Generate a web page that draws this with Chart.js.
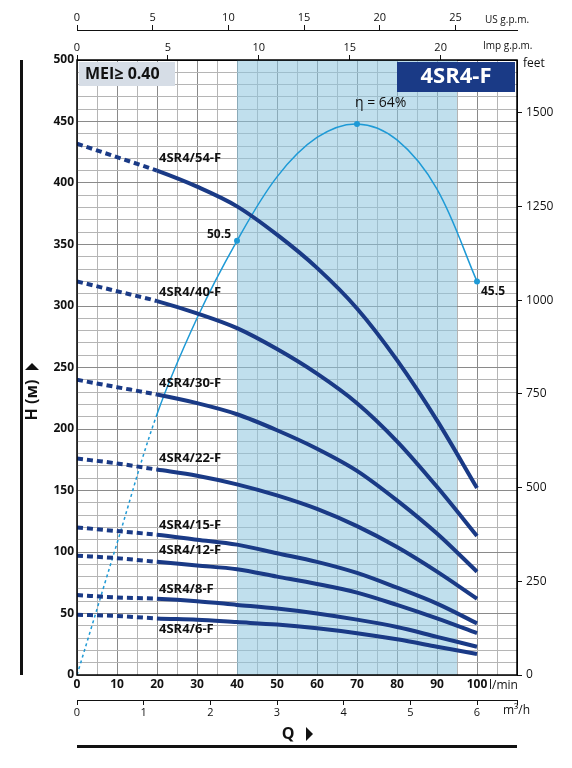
<!DOCTYPE html>
<html><head><meta charset="utf-8">
<script src="https://cdn.jsdelivr.net/npm/chart.js@4/dist/chart.umd.min.js"></script>
<style>html,body{margin:0;padding:0;background:#fff}#w{width:572px;height:768px}</style>
</head><body><div id="w"><canvas id="c"></canvas></div>
<script>
const flows = [0,10,20,30,40,50,60,70,80,90,100];
const pumpNames = ["4SR4/54-F","4SR4/40-F","4SR4/30-F","4SR4/22-F","4SR4/15-F","4SR4/12-F","4SR4/8-F","4SR4/6-F"];
const h54 = [432,421,410,397,381,358,331,298,256,207,152];
const h40 = [320,312,304,294,282,265,245,221,190,153,113];
const h30 = [240,234,228,221,212,199,184,166,142,115,84];
const h22 = [176,172,167,162,155,146,135,121,104,84,62];
const h15 = [120,117,114,110,106,99,92,83,71,58,42];
const h12 = [97,95,92,89,86,80,74,67,57,46,34];
const h8 = [65,63,62,60,57,54,50,45,39,31,23];
const h6 = [49,48,46,45,43,41,38,34,29,23,17];
const labelH = [420,311,237,176,122,101,70,37];
const effQ = [0,10,20,30,40,50,60,70,80,90,100];
const effH = [0,107,212,290,353,405,437,448,435,395,320];
const yTicks = [0,50,100,150,200,250,300,350,400,450,500];

const navy = '#1a3a86', blue = '#1e9ad6';
const curves = [h54,h40,h30,h22,h15,h12,h8,h6];
const datasets = curves.map((arr,i)=>({
  label: pumpNames[i], data: flows.map((q,j)=>({x:q,y:arr[j]})),
  borderColor: navy, borderWidth: 4, pointRadius: 0, cubicInterpolationMode:'monotone',
  segment:{borderDash: c => c.p1.parsed.x <= 20 ? [6,4] : undefined}
}));
datasets.push({label:'eta', data: effQ.map((q,j)=>({x:q,y:effH[j]})), borderColor: blue, borderWidth:1.5,
  tension:0.35,
  pointRadius: c => [40,70,100].includes(effQ[c.dataIndex]) ? 3 : 0, pointBackgroundColor: blue, pointBorderWidth:0,
  segment:{borderDash: c => c.p1.parsed.x <= 20 ? [3,3] : undefined}});

const deco = {
  id:'deco',
  beforeDatasetsDraw(ch){
    const {ctx, scales:{x,y}, chartArea:a} = ch;
    ctx.save();
    ctx.fillStyle='rgba(140,196,222,0.55)';
    const x0=x.getPixelForValue(40), x1=x.getPixelForValue(95);
    ctx.fillRect(x0,a.top,x1-x0,a.bottom-a.top);
    ctx.restore();
  },
  afterDatasetsDraw(ch){
    const {ctx, scales:{x,y}, chartArea:a} = ch;
    ctx.save();
    ctx.strokeStyle='#000'; ctx.lineWidth=1.5; ctx.strokeRect(a.left,a.top,a.right-a.left,a.bottom-a.top);
    ctx.font='bold 13px "Open Sans", sans-serif'; ctx.fillStyle='#111'; ctx.textBaseline='middle';
    pumpNames.forEach((n,i)=>ctx.fillText(n, x.getPixelForValue(20.5), y.getPixelForValue(labelH[i])));
    ctx.font='bold 12px "Open Sans", sans-serif';
    ctx.fillText('50.5', x.getPixelForValue(32.5), y.getPixelForValue(358));
    ctx.fillText('45.5', x.getPixelForValue(101), y.getPixelForValue(312));
    ctx.font='14px "Open Sans", sans-serif';
    ctx.fillText('η = 64%', x.getPixelForValue(69.5), y.getPixelForValue(465));
    ctx.fillStyle='#d6dde6'; ctx.fillRect(a.left+2,a.top+2,96,24);
    ctx.fillStyle='#111'; ctx.font='bold 16px "Open Sans", sans-serif'; ctx.fillText('MEI≥ 0.40', a.left+8, a.top+14);
    ctx.fillStyle='#1a3a86'; ctx.fillRect(a.right-120,a.top+2,118,30);
    ctx.fillStyle='#fff'; ctx.font='bold 22px "Open Sans", sans-serif'; ctx.textAlign='center';
    ctx.fillText('4SR4-F', a.right-61, a.top+17);
    ctx.fillStyle='#111'; ctx.font='12px "Open Sans", sans-serif'; ctx.textAlign='left';
    ctx.fillText('l/min', x.getPixelForValue(103), a.bottom+11);
    ctx.fillText('m³/h', x.getPixelForValue(106.5), a.bottom+36);
    ctx.fillText('feet', a.right+6, a.top+4);
    ctx.font='10px "Open Sans", sans-serif';
    ctx.fillText('US g.p.m.', x.getPixelForValue(102), 20);
    ctx.fillText('Imp g.p.m.', x.getPixelForValue(101.5), 46);
    ctx.font='bold 16px "Open Sans", sans-serif'; ctx.textAlign='center';
    ctx.fillText('Q', 288, 734);
    ctx.beginPath(); ctx.moveTo(306,727); ctx.lineTo(313,734); ctx.lineTo(306,741); ctx.closePath(); ctx.fill();
    ctx.fillRect(77,745,440,3);
    ctx.translate(32, 400); ctx.rotate(-Math.PI/2);
    ctx.fillText('H (м)', 0, 0);
    ctx.beginPath(); ctx.moveTo(30,-7); ctx.lineTo(37,0); ctx.lineTo(30,7); ctx.closePath(); ctx.fill();
    ctx.restore();
    ctx.fillStyle='#111'; ctx.fillRect(20,60,3,615);
  }
};

const tickFont = {family:'"Open Sans", sans-serif', size:12, weight:'bold'};
new Chart(document.getElementById('c'), {
  type:'line', data:{datasets},
  options:{
    responsive:true, maintainAspectRatio:false, animation:false,
    layout:{padding:{left:0,right:0,top:0,bottom:35}},
    plugins:{legend:{display:false}, tooltip:{enabled:false}},
    scales:{
      x:{type:'linear', position:'bottom', min:0, max:110,
        ticks:{stepSize:5, autoSkip:false, maxRotation:0, color:'#111', font:tickFont, padding:2,
          callback:v=> (v%10===0 && v<=100) ? v : ''},
        grid:{color:c=> c.tick && c.tick.value%10===0 ? '#8a8a8a' : '#b5b5b5', lineWidth:1, drawTicks:false}, border:{display:false},
        afterFit:s=>{s.height=25}},
      m3h:{type:'linear', position:'bottom', min:0, max:6.6,
        ticks:{stepSize:1, color:'#111', font:{family:'"Open Sans", sans-serif', size:11}, padding:1, callback:v=> v<=6?v:''},
        grid:{display:true, drawOnChartArea:false, drawTicks:true, tickLength:5, color:'#111'}, border:{color:'#111'},
        afterFit:s=>{s.height=33}},
      y:{type:'linear', position:'left', min:0, max:500,
        ticks:{stepSize:10, autoSkip:false, color:'#111', font:tickFont, callback:v=> yTicks.includes(v) ? v : ''},
        grid:{color:c=> c.tick && c.tick.value%50===0 ? '#8a8a8a' : '#b5b5b5', drawTicks:false}, border:{display:false},
        afterFit:s=>{s.width=77}},
      ft:{type:'linear', position:'right', min:0, max:1640.4,
        afterBuildTicks:s=>{s.ticks=[0,250,500,750,1000,1250,1500].map(v=>({value:v}))},
        ticks:{color:'#111', font:{family:'"Open Sans", sans-serif', size:12}, padding:4, callback:v=>String(v)},
        grid:{drawOnChartArea:false, tickLength:5, color:'#111'}, border:{color:'#111'},
        afterFit:s=>{s.width=55}},
      imp:{type:'linear', position:'top', min:0, max:24.2,
        afterBuildTicks:s=>{s.ticks=[0,5,10,15,20].map(v=>({value:v}))},
        ticks:{color:'#111', font:{family:'"Open Sans", sans-serif', size:11}, padding:1},
        grid:{drawOnChartArea:false, tickLength:5, color:'#111'}, border:{color:'#111'},
        afterFit:s=>{s.height=30}},
      usg:{type:'linear', position:'top', min:0, max:29.06,
        afterBuildTicks:s=>{s.ticks=[0,5,10,15,20,25].map(v=>({value:v}))},
        ticks:{color:'#111', font:{family:'"Open Sans", sans-serif', size:11}, padding:1},
        grid:{drawOnChartArea:false, tickLength:5, color:'#111'}, border:{color:'#111'},
        afterFit:s=>{s.height=30}}
    }
  },
  plugins:[deco]
});
</script></body></html>
